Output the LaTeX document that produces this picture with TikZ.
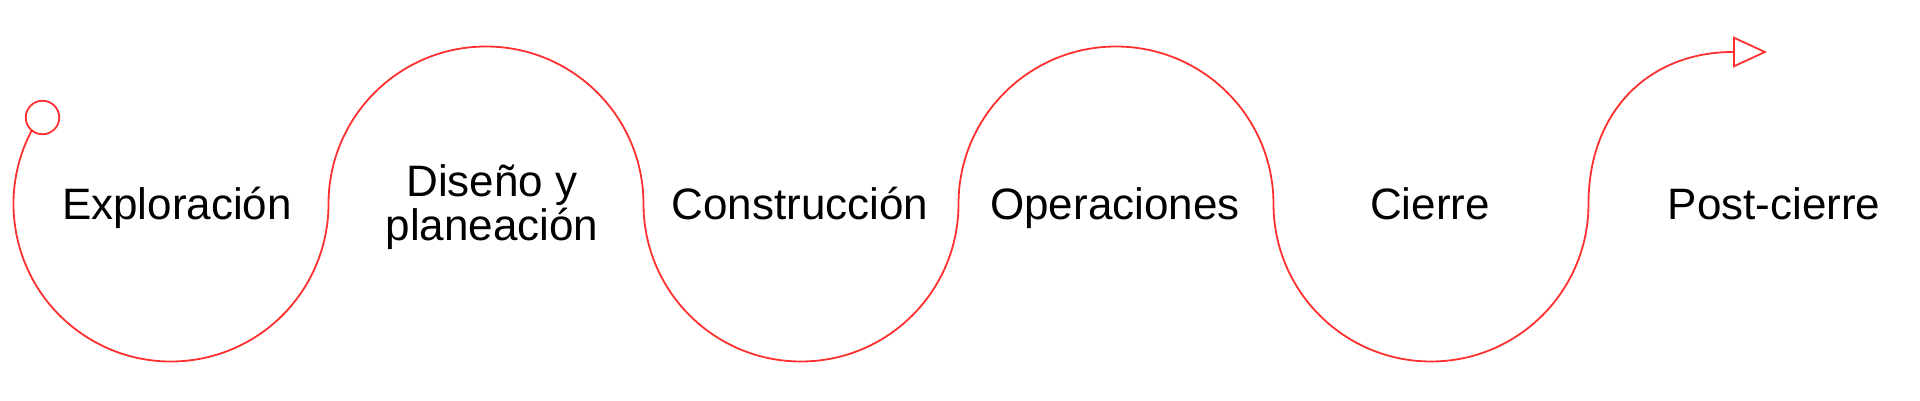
\documentclass[tikz,border=0pt]{standalone}
\usepackage{fontspec}
\setmainfont{Liberation Sans}
\usetikzlibrary{arrows.meta}
\definecolor{wavered}{RGB}{255,48,48}
\begin{document}
\begin{tikzpicture}[x=1pt,y=1pt,
  wave/.style={draw=wavered, line width=1.8pt},
  steptext/.style={font=\fontsize{44}{44}\selectfont, text=black, anchor=base, inner sep=0pt}]
\useasboundingbox (0,0) rectangle (1920,400);
\coordinate (c1) at (171,196);
\coordinate (c2) at (486,196);
\coordinate (c3) at (801,196);
\coordinate (c4) at (1116,196);
\coordinate (c5) at (1431,196);
\coordinate (bend) at (1733,348);
\coordinate (tip) at (1767,348);
\draw[wave, -{Triangle[open, length=34pt, width=31pt]}]
  ([shift={(145:157.5)}]c1) arc[start angle=145, end angle=360, radius=157.5]
  arc[start angle=180, end angle=0, radius=157.5]
  arc[start angle=180, end angle=360, radius=157.5]
  arc[start angle=180, end angle=0, radius=157.5]
  arc[start angle=180, end angle=360, radius=157.5]
  .. controls (1588.5,290) and (1650,348) .. (bend) -- (tip);
\node[draw=wavered, line width=1.8pt, fill=white, circle, minimum size=33.5pt, inner sep=0pt] (start) at (42.5,282.5) {};
\node[steptext] (t1) at (177,181) {Exploración};
\node[steptext] (t2a) at (492,204) {Diseño y};
\node[steptext] (t2b) at (492,160) {planeación};
\node[steptext] (t3) at (800,181) {Construcción};
\node[steptext] (t4) at (1115,181) {Operaciones};
\node[steptext] (t5) at (1430,181) {Cierre};
\node[steptext] (t6) at (1774,181) {Post-cierre};
\end{tikzpicture}
\end{document}
